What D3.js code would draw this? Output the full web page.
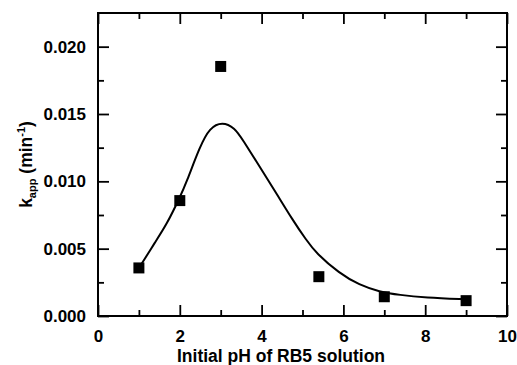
<!DOCTYPE html>
<html>
<head>
<meta charset="utf-8"/>
<script src="https://d3js.org/d3.v7.min.js"></script>
<style>
  body { margin: 0; background: #fff; }
  text { font-family: "Liberation Sans", Arial, sans-serif; font-weight: bold; fill: #000; }
  .axis path { display: none; }
  .axis line { stroke: #000; stroke-width: 1.8; }
  .axis text { font-size: 17px; }
</style>
</head>
<body>
<svg width="517" height="365"></svg>
<script>
// measured points
const pH = [1, 2, 3, 5.4, 7, 9];
const kapp = [0.00357, 0.00857, 0.01853, 0.00292, 0.00143, 0.00114];

// fitted curve
const curveX = [1.0, 1.4, 1.68, 2.0, 2.16, 2.49, 2.73, 3.04, 3.34, 3.54, 3.95, 4.36, 4.76, 5.09, 5.33, 5.9, 6.39, 6.88, 7.37, 8.0, 9.0];
const curveY = [0.00355, 0.0055, 0.0068, 0.0088, 0.0099, 0.01258, 0.01398, 0.01442, 0.01398, 0.01308, 0.0111, 0.00912, 0.00713, 0.00565, 0.00468, 0.00317, 0.0023, 0.0018, 0.00156, 0.00137, 0.00124];

const xMajor = [0, 2, 4, 6, 8, 10];
const xMinor = [1, 3, 5, 7, 9];
const yMajor = [0, 0.005, 0.010, 0.015, 0.020];
const yMinor = [0.0025, 0.0075, 0.0125, 0.0175];

const svg = d3.select("svg");
const L = 98, R = 507, T = 13, B = 316;

const x = d3.scaleLinear().domain([0, 10]).range([L, R]);
const y = d3.scaleLinear().domain([0, 0.0225]).range([B, T]);

// axes with inward ticks on all four sides
svg.append("g").attr("class", "axis").attr("transform", `translate(0,${B})`)
  .call(d3.axisBottom(x).tickValues(xMajor).tickSize(-11).tickPadding(14).tickFormat(d3.format("d")));
svg.append("g").attr("class", "axis").attr("transform", `translate(0,${B})`)
  .call(d3.axisBottom(x).tickValues(xMinor).tickSize(-6).tickFormat(""));
svg.append("g").attr("class", "axis").attr("transform", `translate(0,${T})`)
  .call(d3.axisTop(x).tickValues(xMajor).tickSize(-11).tickFormat(""));
svg.append("g").attr("class", "axis").attr("transform", `translate(0,${T})`)
  .call(d3.axisTop(x).tickValues(xMinor).tickSize(-6).tickFormat(""));

svg.append("g").attr("class", "axis").attr("transform", `translate(${L},0)`)
  .call(d3.axisLeft(y).tickValues(yMajor).tickSize(-11).tickPadding(12).tickFormat(d3.format(".3f")));
svg.append("g").attr("class", "axis").attr("transform", `translate(${L},0)`)
  .call(d3.axisLeft(y).tickValues(yMinor).tickSize(-6).tickFormat(""));
svg.append("g").attr("class", "axis").attr("transform", `translate(${R},0)`)
  .call(d3.axisRight(y).tickValues(yMajor).tickSize(-11).tickFormat(""));
svg.append("g").attr("class", "axis").attr("transform", `translate(${R},0)`)
  .call(d3.axisRight(y).tickValues(yMinor).tickSize(-6).tickFormat(""));

// frame
svg.append("rect")
  .attr("x", L).attr("y", T).attr("width", R - L).attr("height", B - T)
  .attr("fill", "none").attr("stroke", "#000").attr("stroke-width", 2);

// fitted curve
const line = d3.line()
  .x((d, i) => x(curveX[i]))
  .y(d => y(d))
  .curve(d3.curveBasis);
svg.append("path")
  .attr("d", line(curveY))
  .attr("fill", "none").attr("stroke", "#000").attr("stroke-width", 2);

// points
svg.selectAll(".pt").data(pH).enter().append("path")
  .attr("class", "pt")
  .attr("transform", (d, i) => `translate(${x(d)},${y(kapp[i])})`)
  .attr("d", d3.symbol().type(d3.symbolSquare).size(121))
  .attr("fill", "#000");

// axis titles
svg.append("text")
  .attr("x", 281).attr("y", 362)
  .attr("text-anchor", "middle")
  .style("font-size", "17.5px")
  .text("Initial pH of RB5 solution");

const yl = svg.append("text")
  .attr("transform", `translate(32,${(T + B) / 2}) rotate(-90)`)
  .attr("text-anchor", "middle")
  .style("font-size", "17.5px");
yl.append("tspan").text("k");
yl.append("tspan").attr("dy", 4).style("font-size", "11px").text("app");
yl.append("tspan").attr("dy", -4).text(" (min");
yl.append("tspan").attr("dy", -7).style("font-size", "11px").text("-1");
yl.append("tspan").attr("dy", 7).text(")");
</script>
</body>
</html>
